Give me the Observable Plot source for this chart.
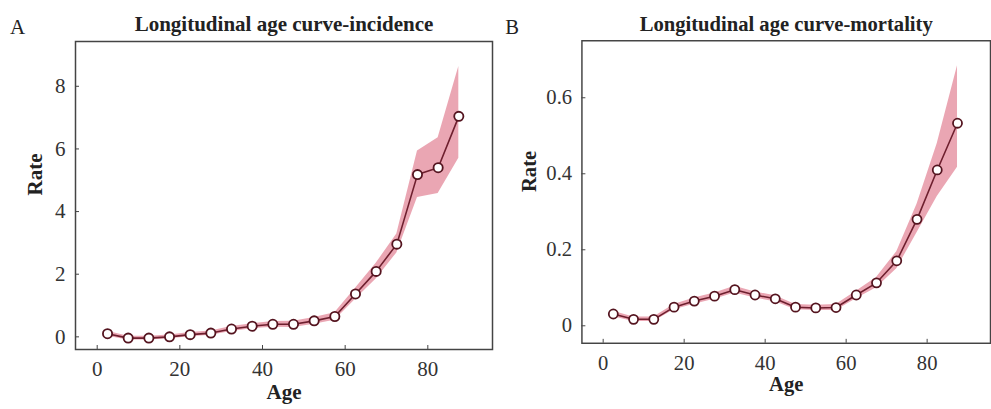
<!DOCTYPE html>
<html>
<head>
<meta charset="utf-8">
<script src="https://cdn.jsdelivr.net/npm/d3@7"></script>
<script src="https://cdn.jsdelivr.net/npm/@observablehq/plot@0.6"></script>
<style>
  html, body { margin: 0; padding: 0; background: #fff; overflow: hidden; }
  #wrap { position: relative; width: 991px; height: 409px; overflow: hidden; }
  .panel { position: absolute; top: 0; }
  .panel svg text { font-family: 'Liberation Serif', 'Times New Roman', serif; }
</style>
</head>
<body>
<div id="wrap">
  <div id="pa" class="panel" style="left:0px"></div>
  <div id="pb" class="panel" style="left:495px"></div>
</div>
<script>
// Age-group midpoints
const ages = [2.5, 7.5, 12.5, 17.5, 22.5, 27.5, 32.5, 37.5, 42.5, 47.5, 52.5, 57.5, 62.5, 67.5, 72.5, 77.5, 82.5, 87.5];

// Panel A: incidence
const incRate  = [0.10, -0.04, -0.04, 0.00, 0.07, 0.12, 0.25, 0.34, 0.40, 0.40, 0.51, 0.65, 1.37, 2.09, 2.96, 5.18, 5.40, 7.04];
const incLower = [0.02, -0.10, -0.10, -0.06, 0.00, 0.05, 0.17, 0.26, 0.31, 0.30, 0.40, 0.53, 1.20, 1.85, 2.68, 4.45, 4.58, 5.70];
const incUpper = [0.18, 0.02, 0.02, 0.06, 0.14, 0.19, 0.33, 0.42, 0.49, 0.50, 0.62, 0.77, 1.55, 2.35, 3.28, 5.93, 6.36, 8.63];

// Panel B: mortality
const morRate  = [0.031, 0.017, 0.017, 0.049, 0.065, 0.078, 0.095, 0.081, 0.071, 0.049, 0.047, 0.048, 0.081, 0.113, 0.171, 0.280, 0.410, 0.533];
const morLower = [0.024, 0.011, 0.011, 0.042, 0.057, 0.070, 0.086, 0.073, 0.063, 0.042, 0.040, 0.040, 0.071, 0.100, 0.150, 0.245, 0.340, 0.417];
const morUpper = [0.038, 0.023, 0.023, 0.056, 0.073, 0.086, 0.104, 0.089, 0.079, 0.056, 0.054, 0.056, 0.091, 0.127, 0.195, 0.320, 0.480, 0.684];

const xTicks = [0, 20, 40, 60, 80];
const yTicksA = [0, 2, 4, 6, 8];
const yTicksB = [0, 0.2, 0.4, 0.6];

const titleA = "Longitudinal age curve-incidence";
const titleB = "Longitudinal age curve-mortality";

function rows(rate, lo, hi) {
  return ages.map((a, i) => ({age: a, rate: rate[i], lo: lo[i], hi: hi[i]}));
}

const FONT = "'Liberation Serif', 'Times New Roman', serif";
const BAND = "#e48d9e";
const LINE = "#6e1f2e";
const DOT = "#54141f";

function panel({data, yDomain, yTicks, title, letter, width, marginLeft, marginRight, yFormat}) {
  return Plot.plot({
    width, height: 409,
    marginLeft, marginRight, marginTop: 41, marginBottom: 60,
    style: {fontFamily: FONT, fontSize: "21px", color: "#333", background: "transparent"},
    x: {domain: [-5.25, 95.65]},
    y: {domain: yDomain},
    marks: [
      Plot.areaY(data, {x: "age", y1: "lo", y2: "hi", fill: BAND, fillOpacity: 0.78}),
      Plot.line(data, {x: "age", y: "rate", stroke: LINE, strokeWidth: 1.6}),
      Plot.dot(data, {x: "age", y: "rate", r: 4.6, fill: "white", stroke: DOT, strokeWidth: 1.8}),
      Plot.frame({stroke: "#444", strokeWidth: 1.5}),
      Plot.axisX({ticks: xTicks, tickSize: -4, tickPadding: 16, label: null, stroke: "#444", fontSize: 21}),
      Plot.axisY({ticks: yTicks, tickSize: -4, tickPadding: 14, label: null, stroke: "#444", fontSize: 21, tickFormat: yFormat}),
      Plot.text([title], {frameAnchor: "top", dy: -25, text: d => d, fontWeight: "bold", fontSize: 21, fill: "#222"}),
      Plot.text([letter], {frameAnchor: "top-left", dx: -(marginLeft - 17), dy: -22, text: d => d, fontSize: 21, fill: "#222", textAnchor: "middle"}),
      Plot.text(["Age"], {frameAnchor: "bottom", dy: 49, text: d => d, fontWeight: "bold", fontSize: 21, fill: "#222"}),
      Plot.text(["Rate"], {frameAnchor: "left", dx: -(marginLeft - 35), text: d => d, fontWeight: "bold", fontSize: 21, fill: "#222", rotate: -90})
    ]
  });
}

document.getElementById("pa").append(panel({
  data: rows(incRate, incLower, incUpper),
  yDomain: [-0.404, 9.43], yTicks: yTicksA, title: titleA, letter: "A",
  width: 495, marginLeft: 75, marginRight: 3, yFormat: d3.format("d")
}));

document.getElementById("pb").append(panel({
  data: rows(morRate, morLower, morUpper),
  yDomain: [-0.046, 0.75], yTicks: yTicksB, title: titleB, letter: "B",
  width: 505, marginLeft: 88, marginRight: 1, yFormat: d => d === 0 ? "0" : d3.format(".1f")(d)
}));
</script>
</body>
</html>
